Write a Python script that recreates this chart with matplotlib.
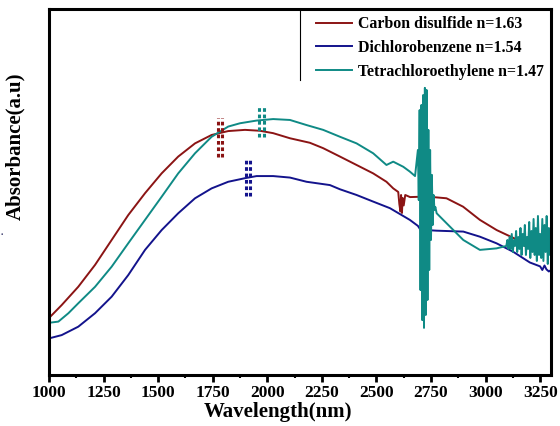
import matplotlib
matplotlib.use("Agg")
import matplotlib.pyplot as plt
from matplotlib.ticker import MultipleLocator

plt.rcParams['font.family'] = ['Liberation Serif', 'DejaVu Serif']
plt.rcParams['font.weight'] = 'bold'

# ---------------- data ----------------
cs2_x = [1000, 1058, 1134, 1211, 1287, 1363, 1440, 1516, 1592, 1669,
         1745, 1821, 1898, 1966, 2027, 2104, 2195, 2256, 2333, 2409,
         2485, 2546, 2577, 2600, 2605, 2610, 2613, 2617, 2620, 2625,
         2632, 2654, 2700, 2759, 2821, 2897, 2974, 3051, 3127, 3150,
         3160, 3170, 3180, 3190]
cs2_y = [0.19, 0.233, 0.294, 0.367, 0.45, 0.533, 0.606, 0.672, 0.728, 0.772,
         0.8, 0.813, 0.817, 0.814, 0.806, 0.789, 0.774, 0.756, 0.728, 0.7,
         0.672, 0.644, 0.622, 0.61, 0.57, 0.545, 0.6, 0.54, 0.59, 0.565,
         0.6, 0.593, 0.594, 0.593, 0.589, 0.561, 0.517, 0.483, 0.457, 0.45,
         0.435, 0.45, 0.43, 0.44]

dcb_x = [1000, 1058, 1134, 1211, 1287, 1363, 1440, 1516, 1592, 1669,
         1745, 1821, 1898, 1951, 2027, 2104, 2180, 2287, 2333, 2409,
         2485, 2562, 2653, 2690, 2708, 2713, 2718, 2722, 2727, 2731,
         2776, 2898, 2974, 3050, 3126, 3203, 3250, 3260, 3270, 3279,
         3290, 3300]
dcb_y = [0.122, 0.133, 0.161, 0.206, 0.261, 0.333, 0.417, 0.483, 0.539, 0.589,
         0.622, 0.644, 0.656, 0.663, 0.663, 0.658, 0.644, 0.633, 0.619, 0.6,
         0.578, 0.556, 0.517, 0.497, 0.477, 0.44, 0.47, 0.435, 0.475, 0.483,
         0.481, 0.478, 0.461, 0.439, 0.411, 0.375, 0.362, 0.35, 0.365, 0.352,
         0.345, 0.35]

tce_x = [1000, 1043, 1089, 1134, 1211, 1287, 1363, 1440, 1516, 1592,
         1669, 1745, 1821, 1875, 1951, 2027, 2104, 2180, 2256, 2333,
         2409, 2485, 2546, 2577, 2623, 2653, 2677,
         2690, 2694, 2698, 2702, 2706, 2710, 2714, 2718, 2722, 2726,
         2730, 2734, 2738, 2742, 2746, 2750, 2754, 2758, 2762, 2766, 2770,
         2776, 2821, 2898, 2974, 3050,
         3095, 3100, 3105, 3110, 3115, 3120, 3125, 3130, 3135, 3140,
         3145, 3150, 3155, 3160, 3165, 3170, 3175, 3180, 3185, 3190,
         3195, 3200, 3205, 3210, 3215, 3220, 3225, 3230, 3235, 3240,
         3245, 3250, 3255, 3260, 3265, 3270, 3275, 3280, 3285, 3290,
         3295, 3300]
tce_y = [0.174, 0.178, 0.206, 0.239, 0.294, 0.361, 0.439, 0.517, 0.594, 0.672,
         0.739, 0.794, 0.828, 0.839, 0.848, 0.853, 0.85, 0.833, 0.817, 0.794,
         0.772, 0.739, 0.7, 0.711, 0.694, 0.678, 0.663,
         0.75, 0.583, 0.883, 0.283, 0.9, 0.183, 0.933, 0.157, 0.957, 0.2,
         0.95, 0.25, 0.817, 0.35, 0.75, 0.45, 0.667, 0.5, 0.6, 0.55, 0.56,
         0.539, 0.506, 0.45, 0.417, 0.422,
         0.43, 0.45, 0.42, 0.46, 0.42, 0.47, 0.41, 0.45, 0.43, 0.48,
         0.41, 0.46, 0.42, 0.49, 0.40, 0.47, 0.43, 0.50, 0.40, 0.46,
         0.42, 0.51, 0.39, 0.48, 0.41, 0.52, 0.40, 0.49, 0.38, 0.53,
         0.40, 0.47, 0.39, 0.52, 0.38, 0.50, 0.41, 0.53, 0.37, 0.49,
         0.40, 0.45]

labels = ['Carbon disulfide n=1.63', 'Dichlorobenzene n=1.54',
          'Tetrachloroethylene n=1.47']
colors = ['#8B1414', '#13138C', '#0F8A85']

# peak markers: (wavelength columns, y low, y high)
peak_wl = [[1776, 1792], [1902, 1920], [1964, 1987]]
peak_lo = [0.727, 0.597, 0.793]
peak_hi = [0.857, 0.72, 0.9]

xticks = [1000, 1250, 1500, 1750, 2000, 2250, 2500, 2750, 3000, 3250]

# ---------------- figure ----------------
fig = plt.figure(figsize=(5.6, 4.26), dpi=100)
ax = fig.add_axes([0.0875, 0.1197, 0.8965, 0.8593])

series = [(cs2_x, cs2_y), (dcb_x, dcb_y), (tce_x, tce_y)]
for (xs, ys), c, lab in zip(series, colors, labels):
    ax.plot(xs, ys, color=c, lw=1.4, label=lab)

for wls, lo, hi, c in zip(peak_wl, peak_lo, peak_hi, colors):
    for w in wls:
        ax.plot([w, w], [lo, hi], color=c, lw=2.2,
                linestyle=(0, (1.2, 0.9)), solid_capstyle='butt')

ax.set_xlim(1000, 3300)
ax.set_ylim(0, 1.22)
ax.set_xticks(xticks)
ax.set_xticklabels([str(t) for t in xticks])
ax.xaxis.set_minor_locator(MultipleLocator(125))
ax.set_yticks([])
ax.tick_params(axis='x', which='major', direction='out', length=5, width=2,
               labelsize=12.5, pad=2)
ax.tick_params(axis='x', which='minor', direction='out', length=2.5, width=1.5)
for lbl in ax.get_xticklabels():
    lbl.set_fontweight('bold')
for sp in ax.spines.values():
    sp.set_linewidth(2.2)

ax.set_xlabel('Wavelength(nm)', fontsize=15, fontweight='bold', labelpad=0)
ax.xaxis.set_label_coords(0.456, -0.075)
ax.set_ylabel('Absorbance(a.u)', fontsize=15, fontweight='bold')
ax.yaxis.set_label_coords(-0.048, 0.625)

leg = ax.legend(loc='upper right', bbox_to_anchor=(1.0, 1.0), borderaxespad=0,
                frameon=False, prop={'size': 11.4, 'weight': 'bold'},
                handlelength=2.3, handletextpad=0.35, labelspacing=0.5,
                borderpad=0.45)
# left border of legend box
ax.plot([0.5, 0.5], [1.0, 0.805], transform=ax.transAxes, color='black',
        lw=0.8, clip_on=False)

fig.text(0.001, 0.448, '.', fontsize=7, color='#333366')

fig.savefig('out.png', dpi=100)
